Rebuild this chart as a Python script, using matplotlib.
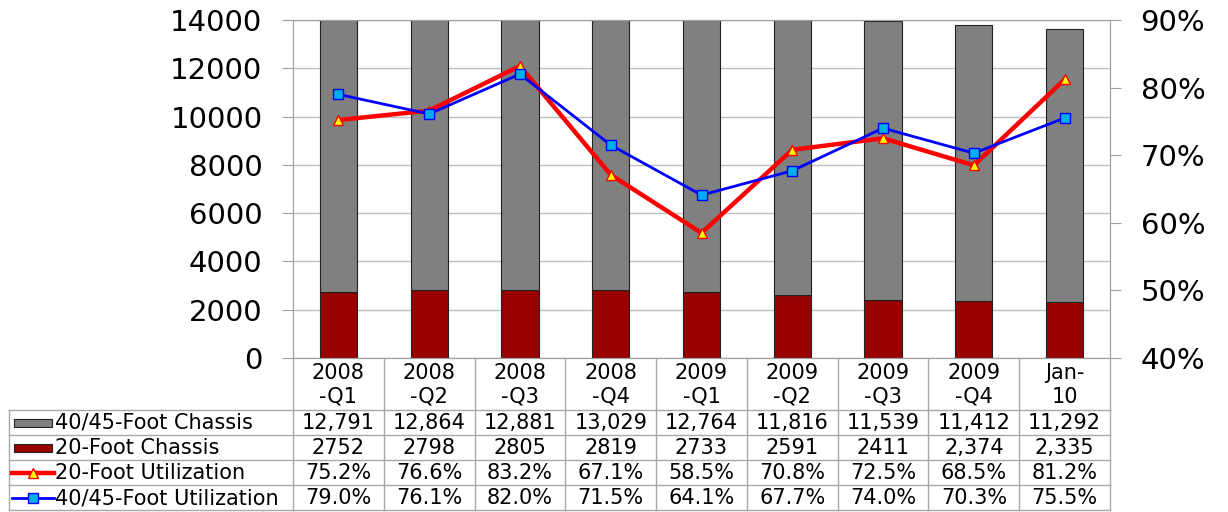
import numpy as np
import matplotlib.pyplot as plt
from matplotlib.patches import Rectangle
from matplotlib.lines import Line2D

categories = ['2008\n-Q1', '2008\n-Q2', '2008\n-Q3', '2008\n-Q4', '2009\n-Q1',
              '2009\n-Q2', '2009\n-Q3', '2009\n-Q4', 'Jan-\n10']
chassis_40 = [12791, 12864, 12881, 13029, 12764, 11816, 11539, 11412, 11292]
chassis_20 = [2752, 2798, 2805, 2819, 2733, 2591, 2411, 2374, 2335]
util_20 = [75.2, 76.6, 83.2, 67.1, 58.5, 70.8, 72.5, 68.5, 81.2]
util_40 = [79.0, 76.1, 82.0, 71.5, 64.1, 67.7, 74.0, 70.3, 75.5]

# how the table prints the counts (source mixes formats)
txt_40 = ['12,791', '12,864', '12,881', '13,029', '12,764', '11,816', '11,539', '11,412', '11,292']
txt_20 = ['2752', '2798', '2805', '2819', '2733', '2591', '2411', '2,374', '2,335']

GRAY = '#808080'
DRED = '#990000'
GRID = '#BFBFBF'
W, H = 1228, 512

fig = plt.figure(figsize=(W / 100, H / 100), dpi=100)
L, R, T, B = 293, 1110, 20, 358
ax = fig.add_axes([L / W, 1 - B / H, (R - L) / W, (B - T) / H])

x = np.arange(len(categories))
ax.bar(x, chassis_20, width=0.41, color=DRED, edgecolor='#222222', linewidth=0.8)
ax.bar(x, chassis_40, width=0.41, bottom=chassis_20, color=GRAY, edgecolor='#222222', linewidth=0.8)
ax.set_xlim(-0.5, len(categories) - 0.5)
ax.set_ylim(0, 14000)
ax.set_yticks(range(0, 14001, 2000))
ax.set_axisbelow(True)
ax.yaxis.grid(True, color=GRID, linewidth=1)
ax.set_xticks([])
for s in ['left', 'bottom', 'top', 'right']:
    ax.spines[s].set_color('#A0A0A0')
ax.tick_params(axis='y', direction='out', length=8, color='#A0A0A0', labelsize=21, pad=14)

ax2 = ax.twinx()
ax2.plot(x, util_20, color='#FF0000', linewidth=3.2, marker='^', markersize=7,
         markerfacecolor='#FFFF00', markeredgecolor='#FF0000', markeredgewidth=1)
ax2.plot(x, util_40, color='#0000FF', linewidth=2, marker='s', markersize=7,
         markerfacecolor='#00AEEF', markeredgecolor='#0000FF', markeredgewidth=1)
ax2.set_ylim(40, 90)
ax2.set_yticks(range(40, 91, 10))
ax2.set_yticklabels(['%d%%' % v for v in range(40, 91, 10)])
for s in ['left', 'bottom', 'top', 'right']:
    ax2.spines[s].set_color('#A0A0A0')
ax2.tick_params(axis='y', direction='out', length=8, color='#A0A0A0', labelsize=21, pad=14)

# data table under the plot, sharing the category positions
TL = 9
cw = (R - L) / len(categories)
x0 = -0.5 - (L - TL) / cw
tab = fig.add_axes([TL / W, 1 / H, (R - TL) / W, (H - B - 1) / H])
tab.set_xlim(x0, len(categories) - 0.5)
tab.set_ylim(H - B - 1, 0)
tab.axis('off')

LC = '#A8A8A8'
hdr = 52
rows = [hdr + 25 * i for i in range(5)]
for yy in rows:
    tab.plot([x0, len(categories) - 0.5], [yy, yy], color=LC, lw=1, clip_on=False)
for i in range(len(categories) + 1):
    tab.plot([i - 0.5, i - 0.5], [0, rows[-1]], color=LC, lw=1, clip_on=False)
tab.plot([x0, x0], [hdr, rows[-1]], color=LC, lw=1, clip_on=False)

fs = 15
for i, c in enumerate(categories):
    tab.text(i, hdr / 2 + 1, c, ha='center', va='center', fontsize=fs, linespacing=1.22)

series_txt = [txt_40, txt_20,
              ['%.1f%%' % v for v in util_20],
              ['%.1f%%' % v for v in util_40]]
names = ['40/45-Foot Chassis', '20-Foot Chassis', '20-Foot Utilization', '40/45-Foot Utilization']
for r, (nm, vals) in enumerate(zip(names, series_txt)):
    yc = rows[r] + 12.5
    tab.text(x0 + 46 / cw, yc + 0.5, nm, ha='left', va='center', fontsize=fs)
    for i, v in enumerate(vals):
        tab.text(i, yc + 0.5, v, ha='center', va='center', fontsize=fs)

# legend keys in the label column
kx0, kx1 = x0 + 5 / cw, x0 + 43 / cw
for r, col in enumerate([GRAY, DRED]):
    yc = rows[r] + 12.5
    tab.add_patch(Rectangle((kx0, yc - 4), kx1 - kx0, 8, facecolor=col,
                            edgecolor='#222222', lw=0.8, clip_on=False))
km = (kx0 + kx1) / 2
tab.add_line(Line2D([kx0 - 2 / cw, kx1 + 2 / cw], [rows[2] + 12.5] * 2, color='#FF0000', lw=3.2))
tab.plot([km], [rows[2] + 12.5], marker='^', markersize=7, color='#FF0000',
         markerfacecolor='#FFFF00', markeredgecolor='#FF0000')
tab.add_line(Line2D([kx0 - 2 / cw, kx1 + 2 / cw], [rows[3] + 12.5] * 2, color='#0000FF', lw=2))
tab.plot([km], [rows[3] + 12.5], marker='s', markersize=7,
         markerfacecolor='#00AEEF', markeredgecolor='#0000FF')

fig.savefig('out.png', dpi=100)
